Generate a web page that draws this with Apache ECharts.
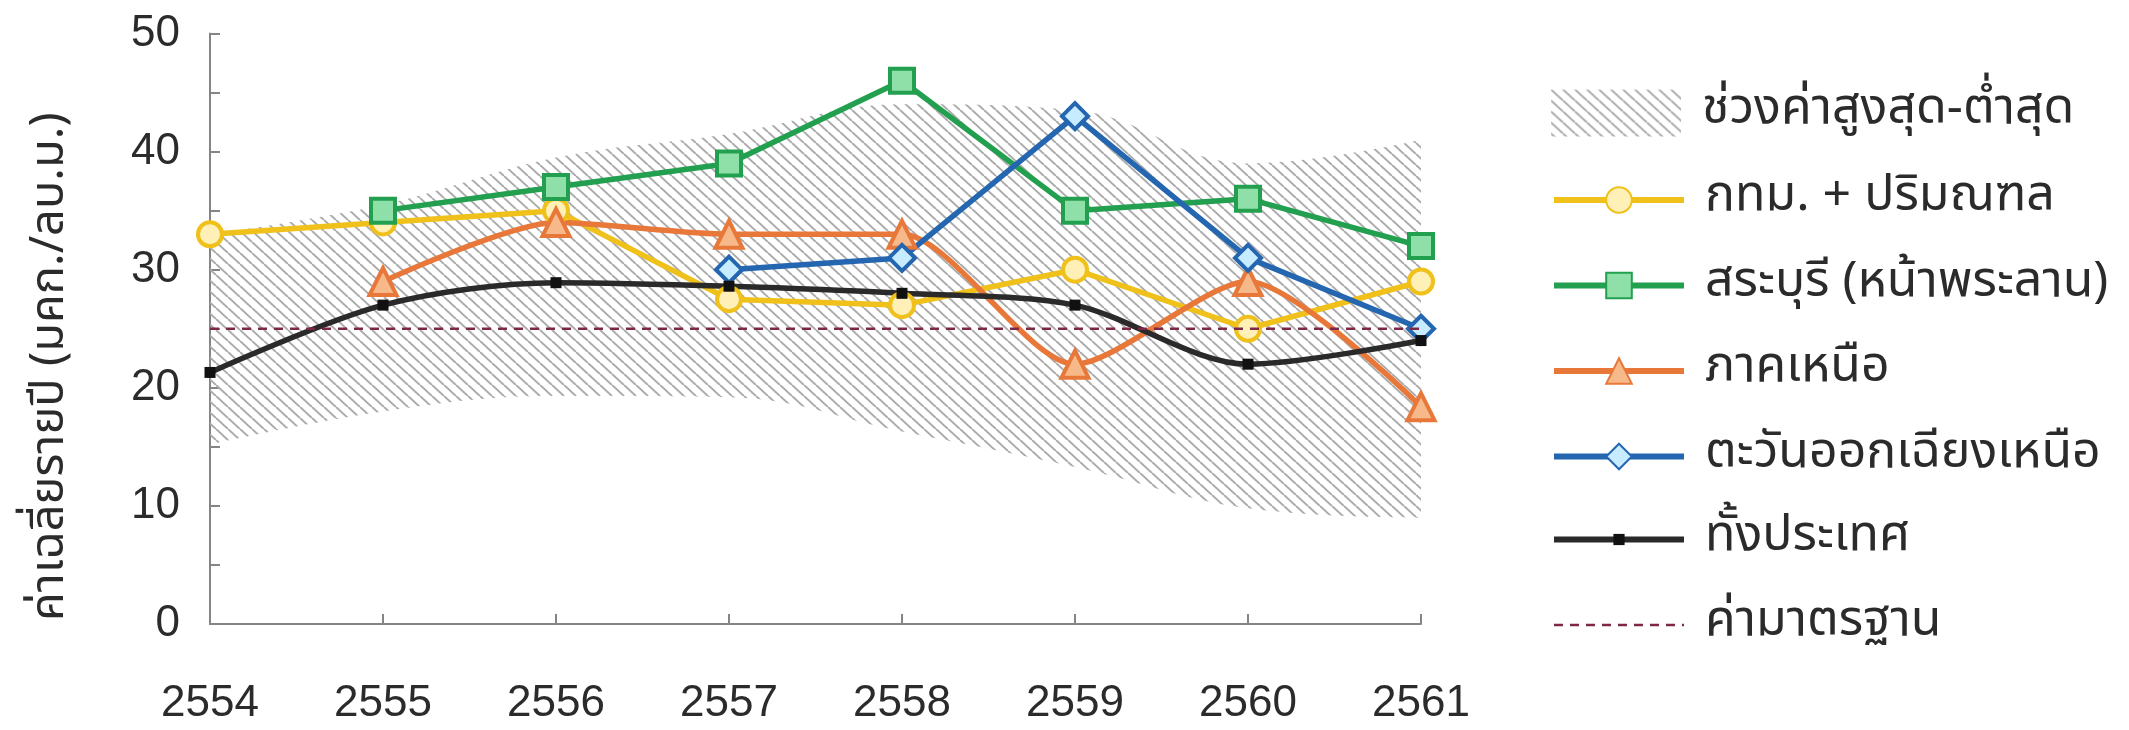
<!DOCTYPE html>
<html>
<head>
<meta charset="utf-8">
<script src="https://cdn.jsdelivr.net/npm/echarts@6/dist/echarts.min.js"></script>
<style>
  html, body { margin: 0; padding: 0; background: #ffffff; }
  #chart { width: 2129px; height: 730px; }
</style>
</head>
<body>
<div id="chart"></div>
<script>
// Annual mean concentration by region (Thai Buddhist-era years)
const years = ['2554', '2555', '2556', '2557', '2558', '2559', '2560', '2561'];
const yTicks = [0, 10, 20, 30, 40, 50];

// Envelope of the highest and lowest station averages
const rangeMin = [15.2, 18, 19.3, 19.2, 16.3, 13.3, 9.8, 9];
const rangeMax = [33, 35.5, 39.5, 41.5, 44, 43.5, 39, 41];

const bangkok   = [33, 34, 35, 27.5, 27, 30, 25, 29];
const saraburi  = [null, 35, 37, 39, 46, 35, 36, 32];
const north     = [null, 29, 34, 33, 33, 22, 29, 18.4];
const northeast = [null, null, null, 30, 31, 43, 31, 25];
const country   = [21.3, 27, 28.9, 28.6, 28, 27, 22, 24];
const standard  = [25, 25, 25, 25, 25, 25, 25, 25];

const names = {
  range: 'ช่วงค่าสูงสุด-ต่ำสุด',
  bangkok: 'กทม. + ปริมณฑล',
  saraburi: 'สระบุรี (หน้าพระลาน)',
  north: 'ภาคเหนือ',
  northeast: 'ตะวันออกเฉียงเหนือ',
  country: 'ทั้งประเทศ',
  standard: 'ค่ามาตรฐาน'
};

const FONT = "'Noto Sans Thai', 'Leelawadee UI', Tahoma, 'Noto Sans', 'DejaVu Sans', sans-serif";
const NUM_FONT = "'Liberation Sans', Arial, sans-serif";
const TEXT = '#2b2b2b';
const STD_COLOR = '#7d2846';

// Diagonal hatching used for the min-max envelope
function makeHatch() {
  const w = 12, h = 11;
  const c = document.createElement('canvas');
  c.width = w; c.height = h;
  const g = c.getContext('2d');
  g.strokeStyle = '#ababab';
  g.lineWidth = 2;
  for (const dx of [-w, 0, w]) {
    g.beginPath();
    g.moveTo(dx, 0);
    g.lineTo(dx + w, h);
    g.stroke();
  }
  return c;
}
const hatch = { image: makeHatch(), repeat: 'repeat' };

// Stacking needs the envelope height on top of its lower bound
const rangeSpan = rangeMax.map((v, i) => +(v - rangeMin[i]).toFixed(2));

function lineSeries(name, data, color, symbol, size, fill, extra) {
  return Object.assign({
    name: name,
    type: 'line',
    data: data,
    symbol: symbol,
    symbolSize: size,
    showAllSymbol: true,
    lineStyle: { color: color, width: 5.5 },
    itemStyle: { color: fill, borderColor: color, borderWidth: 4 },
    emphasis: { disabled: true },
    z: 3
  }, extra || {});
}

const legendText = { fontFamily: FONT, fontSize: 50, color: TEXT, lineHeight: 50, padding: [0, 0, 0, 16] };
function legendBlock(top, itemHeight, data) {
  return {
    orient: 'vertical',
    left: 1551,
    top: top,
    padding: 0,
    itemGap: 35.5,
    itemWidth: 130,
    itemHeight: itemHeight,
    selectedMode: false,
    lineStyle: { width: 6 },
    data: data,
    textStyle: legendText
  };
}

const chart = echarts.init(document.getElementById('chart'), null, { renderer: 'canvas' });

chart.setOption({
  animation: false,
  backgroundColor: '#ffffff',
  grid: { left: 210, top: 33.5, width: 1211, height: 590.5, containLabel: false },
  legend: [
    legendBlock(88, 47, [{ name: names.range, icon: 'rect', itemStyle: { color: hatch, borderWidth: 0 } }]),
    legendBlock(175, 32, [names.bangkok, names.saraburi, names.north, names.northeast]),
    legendBlock(514.5, 14, [
      names.country,
      { name: names.standard, itemStyle: { opacity: 0 }, lineStyle: { width: 2.5, type: [9, 7], color: STD_COLOR } }
    ])
  ],
  xAxis: {
    type: 'category',
    data: years,
    boundaryGap: false,
    axisLine: { lineStyle: { color: '#858585', width: 2 } },
    axisTick: { show: true, inside: true, length: 10, alignWithLabel: true, lineStyle: { color: '#858585', width: 2 } },
    axisLabel: { fontFamily: NUM_FONT, fontSize: 44, color: TEXT, margin: 58 },
    splitLine: { show: false }
  },
  yAxis: {
    type: 'value',
    min: 0,
    max: 50,
    interval: 5,
    name: 'ค่าเฉลี่ยรายปี (มคก./ลบ.ม.)',
    nameLocation: 'middle',
    nameGap: 133,
    nameTextStyle: { fontFamily: FONT, fontSize: 47, color: TEXT, padding: [0, 76, 0, 0] },
    axisLine: { show: true, lineStyle: { color: '#858585', width: 2 } },
    axisTick: { show: true, inside: true, length: 10, lineStyle: { color: '#858585', width: 2 } },
    axisLabel: {
      fontFamily: NUM_FONT, fontSize: 44, color: TEXT, margin: 30,
      formatter: v => (yTicks.indexOf(v) >= 0 ? String(v) : '')
    },
    splitLine: { show: false }
  },
  series: [
    {
      name: 'range-low',
      type: 'line',
      data: rangeMin,
      stack: 'range',
      smooth: 0.4,
      symbol: 'none',
      lineStyle: { opacity: 0 },
      silent: true,
      z: 1
    },
    {
      name: names.range,
      type: 'line',
      data: rangeSpan,
      stack: 'range',
      smooth: 0.4,
      symbol: 'none',
      lineStyle: { opacity: 0 },
      itemStyle: { color: hatch },
      areaStyle: { color: hatch, opacity: 1 },
      silent: true,
      z: 1
    },
    lineSeries(names.bangkok, bangkok, '#efc11a', 'circle', 24, '#fff0b8'),
    lineSeries(names.saraburi, saraburi, '#23a04f', 'rect', 24, '#8fe0a8'),
    lineSeries(names.north, north, '#e8783a', 'triangle', 27, '#f8b98a', { smooth: 0.25 }),
    lineSeries(names.northeast, northeast, '#2566b0', 'diamond', 26, '#c8ecff'),
    lineSeries(names.country, country, '#2a2a2a', 'rect', 11, '#111111', {
      smooth: 0.3,
      itemStyle: { color: '#111111', borderWidth: 0 }
    }),
    {
      name: names.standard,
      type: 'line',
      data: standard,
      symbol: 'none',
      lineStyle: { color: STD_COLOR, width: 2.5, type: [9, 7] },
      itemStyle: { color: STD_COLOR },
      silent: true,
      z: 4
    }
  ]
});
</script>
</body>
</html>
